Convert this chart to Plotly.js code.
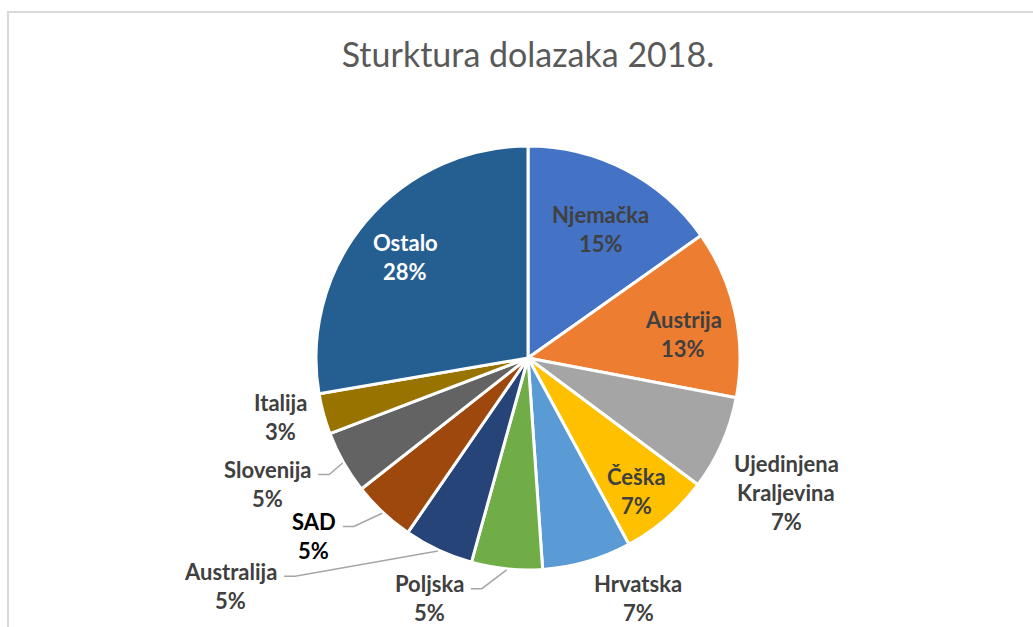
<!DOCTYPE html>
<html><head><meta charset="utf-8">
<script src="https://cdn.plot.ly/plotly-3.0.1.min.js"></script>
<style>html,body{margin:0;padding:0;background:#fff;}#chart{width:1033px;height:627px;}</style>
</head><body><div id="chart"></div>
<script>
// ---- data ----
const categories = ['Njemačka','Austrija','Ujedinjena Kraljevina','Češka','Hrvatska','Poljska','Australija','SAD','Slovenija','Italija','Ostalo'];
const shares = [15.2, 12.8, 7.2, 6.9, 6.8, 5.4, 5.3, 4.8, 4.8, 3.1, 27.7];
const colors = ['#4472C4','#ED7D31','#A5A5A5','#FFC000','#5B9BD5','#70AD47','#264478','#9E480E','#636363','#997300','#255E91'];
const chartTitle = 'Sturktura dolazaka 2018.';

// ---- label styling / placement (relative to slice mid-angle) ----
const labelStyle = {
  'Njemačka': {rf:0.697, dt:2.2, color:'#404040'},
  'Austrija': {rf:0.74, dt:3.4, color:'#404040'},
  'Ujedinjena Kraljevina': {rf:1.372, dt:3.7, color:'#404040', split:true},
  'Češka': {rf:0.811, dt:1.6, color:'#404040'},
  'Hrvatska': {rf:1.246, dt:-8.5, color:'#404040'},
  'Poljska': {rf:1.225, dt:16.6, color:'#404040', leader:true},
  'Australija': {rf:1.766, dt:27.5, color:'#404040', leader:true},
  'SAD': {rf:1.313, dt:7.05, color:'#000000', leader:true},
  'Slovenija': {rf:1.365, dt:3.7, color:'#404040', leader:true},
  'Italija': {rf:1.202, dt:1.9, color:'#404040'},
  'Ostalo': {rf:0.752, dt:-0.6, color:'#ffffff'}
};

const W = 1033, H = 627;
const CX = 528, CY = 358, R = 212;
const LABEL_FONT = 22, LINE_GAP = 29;
const px = x => x / W, py = y => 1 - y / H;

const total = shares.reduce((a, b) => a + b, 0);
const canvas = document.createElement('canvas');
const ctx = canvas.getContext('2d');
ctx.font = 'bold ' + LABEL_FONT + 'px Lato';

const annotations = [];
const shapes = [{
  type:'rect', xref:'paper', yref:'paper',
  x0: px(8), x1: 1.02, y0: py(12), y1: -0.05,
  line:{color:'#d9d9d9', width:2}, fillcolor:'rgba(0,0,0,0)', layer:'below'
}];

let cum = 0;
categories.forEach((name, i) => {
  const v = shares[i];
  const midDeg = (cum + v / 2) / total * 360;
  cum += v;
  const st = labelStyle[name];
  const a = (midDeg + st.dt) * Math.PI / 180;
  const lx = CX + R * st.rf * Math.sin(a);
  const ly = CY - R * st.rf * Math.cos(a);
  const lines = (st.split ? name.split(' ') : [name]).concat([Math.round(v / total * 100) + '%']);
  lines.forEach((t, k) => {
    const yy = ly + (k - (lines.length - 1) / 2) * LINE_GAP;
    annotations.push({
      xref:'paper', yref:'paper', x: px(lx), y: py(yy),
      xanchor:'center', yanchor:'middle', showarrow:false,
      text: '<b>' + t + '</b>',
      font:{family:'Lato', size:LABEL_FONT, color:st.color}
    });
  });
  if (st.leader) {
    const nameY = ly - (lines.length - 1) / 2 * LINE_GAP + 5;
    const wName = ctx.measureText(lines[0]).width;
    const x0 = lx + wName / 2 + 7;
    const x1 = x0 + 11;
    const ma = midDeg * Math.PI / 180;
    const ex = CX + (R + 1) * Math.sin(ma);
    const ey = CY - (R + 1) * Math.cos(ma);
    shapes.push({
      type:'path', xref:'paper', yref:'paper',
      path: 'M ' + px(x0) + ',' + py(nameY) + ' L ' + px(x1) + ',' + py(nameY) + ' L ' + px(ex) + ',' + py(ey),
      line:{color:'#A6A6A6', width:1.5}
    });
  }
});

const trace = {
  type:'pie', labels:categories, values:shares, sort:false,
  direction:'clockwise', rotation:0, textinfo:'none', hoverinfo:'label+percent',
  marker:{colors:colors, line:{color:'#ffffff', width:3}},
  domain:{x:[px(CX - R), px(CX + R)], y:[py(CY + R), py(CY - R)]},
  showlegend:false
};

const layout = {
  width:W, height:H, margin:{l:0, r:0, t:0, b:0},
  paper_bgcolor:'#ffffff', plot_bgcolor:'#ffffff',
  title:{text:chartTitle, font:{family:'Lato', size:34, color:'#595959'},
         x:px(528), xanchor:'center', y:1 - 55 / H, yanchor:'middle', yref:'container'},
  annotations:annotations, shapes:shapes, showlegend:false
};

Plotly.newPlot('chart', [trace], layout, {staticPlot:true, displayModeBar:false});
</script>
</body></html>
